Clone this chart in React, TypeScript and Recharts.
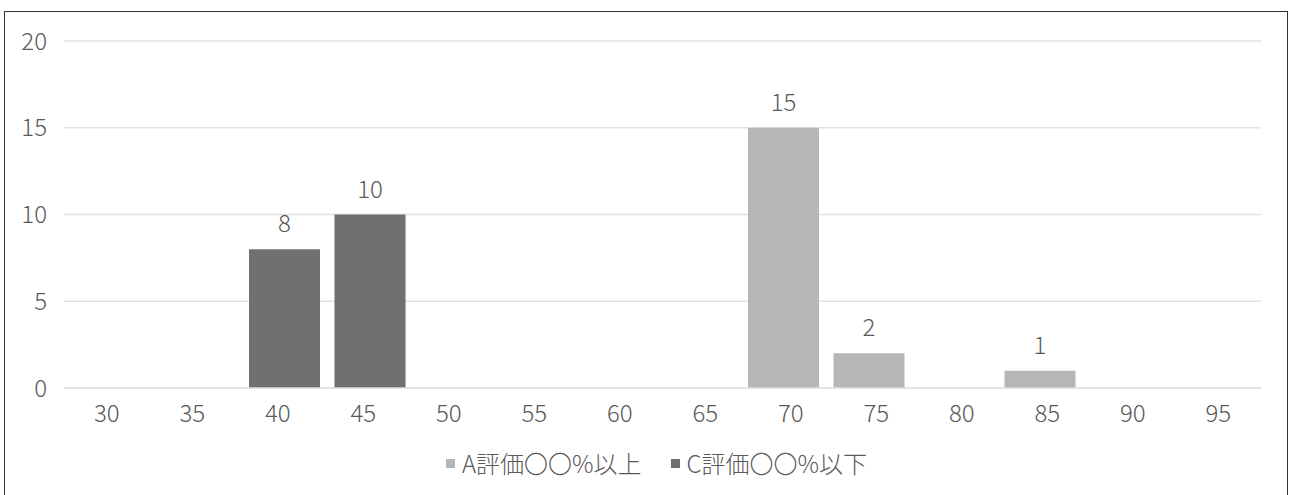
import { BarChart, Bar, XAxis, YAxis, CartesianGrid, Legend } from "recharts";

const scores = ["30", "35", "40", "45", "50", "55", "60", "65", "70", "75", "80", "85", "90", "95"];
const gradeA = [null, null, null, null, null, null, null, null, 15, 2, null, 1, null, null];
const gradeC = [null, null, 8, 10, null, null, null, null, null, null, null, null, null, null];
const yTicks = [0, 5, 10, 15, 20];

const FONT = '"Noto Sans CJK JP", "Noto Sans", sans-serif';
const TEXT = "#595959";
const FS = 24;

const data = scores.map((s, i) => ({ score: s, A: gradeA[i], C: gradeC[i] }));

const renderLabel = (props: any) => {
  const { x, y, width, value } = props;
  if (value == null || value === 0) return null;
  return (
    <text
      x={Number(x) + Number(width) / 2}
      y={Number(y) - 17}
      textAnchor="middle"
      fill={TEXT}
      fontSize={FS}
      fontWeight={300}
      fontFamily={FONT}
    >
      {value}
    </text>
  );
};

// square swatch + series name, centred a little right of the middle
const renderLegend = (props: any) => {
  const { payload = [] } = props;
  return (
    <div
      style={{
        display: "flex",
        justifyContent: "center",
        paddingLeft: 47,
        fontFamily: FONT,
        fontSize: FS,
        fontWeight: 300,
        color: TEXT,
        lineHeight: "30px",
      }}
    >
      {payload.map((p: any, i: number) => (
        <div key={i} style={{ display: "flex", alignItems: "center", marginLeft: i ? 29 : 0 }}>
          <span style={{ width: 9, height: 9, background: p.color, marginRight: 7, display: "inline-block" }} />
          <span>{p.value}</span>
        </div>
      ))}
    </div>
  );
};

export default function App() {
  return (
    <div
      style={{
        position: "absolute",
        left: 4,
        top: 11,
        width: 1282,
        height: 500,
        border: "1px solid #333",
        background: "#fff",
      }}
    >
      <BarChart
        width={1282}
        height={480}
        data={data}
        margin={{ top: 29, right: 26, left: 0, bottom: 14 }}
        barSize={71}
        barGap={-57}
        barCategoryGap={0}
      >
        <CartesianGrid vertical={false} stroke="#e2e2e2" strokeWidth={1.5} />
        <XAxis
          dataKey="score"
          height={60}
          tickLine={false}
          axisLine={{ stroke: "#e2e2e2", strokeWidth: 1.5 }}
          tickMargin={11}
          tick={{ fill: TEXT, fontSize: FS, fontWeight: 300, fontFamily: FONT }}
        />
        <YAxis
          width={59}
          domain={[0, 20]}
          ticks={yTicks}
          tickLine={false}
          axisLine={false}
          tickMargin={11}
          tick={{ fill: TEXT, fontSize: FS, fontWeight: 300, fontFamily: FONT }}
        />
        <Legend verticalAlign="bottom" content={renderLegend} />
        <Bar dataKey="A" name="A評価〇〇%以上" fill="#b5b6b5" isAnimationActive={false} label={renderLabel} />
        <Bar dataKey="C" name="C評価〇〇%以下" fill="#707070" isAnimationActive={false} label={renderLabel} />
      </BarChart>
    </div>
  );
}
